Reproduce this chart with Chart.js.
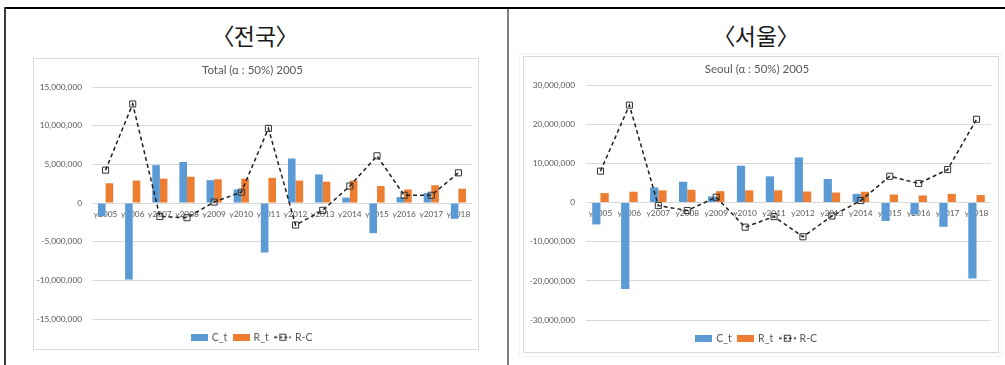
<!DOCTYPE html>
<html>
<head>
<meta charset="utf-8">
<script src="https://cdn.jsdelivr.net/npm/chart.js@4"></script>
<style>
  html, body { margin: 0; padding: 0; background: #fff; }
  #page { position: relative; width: 1005px; height: 365px; overflow: hidden; background: #fff; }
  .rule { position: absolute; }
  .heading {
    position: absolute; top: 17px; width: 200px; text-align: center;
    font-family: "Noto Sans CJK KR", sans-serif; font-size: 23px; color: #1a1a1a;
    font-feature-settings: "palt"; line-height: 36px;
  }
  .frame { position: absolute; box-sizing: border-box; border: 1px solid #d9d9d9; }
  .outer { position: absolute; box-sizing: border-box; border: 1px solid #f2f2f2; }
  canvas.plot { position: absolute; }
</style>
</head>
<body>
<div id="page">
  <div class="rule" style="left:4px;top:7px;width:1001px;height:2px;background:#000;"></div>
  <div class="rule" style="left:4px;top:7px;width:2px;height:358px;background:#3c3c3c;"></div>
  <div class="rule" style="left:507px;top:9px;width:2px;height:356px;background:#7f7f7f;"></div>

  <div class="heading" style="left:155px;">〈전국〉</div>
  <div class="heading" style="left:656px;">〈서울〉</div>

  <div class="outer" style="left:519px;top:53px;width:483px;height:304px;"></div>
  <div class="frame" style="left:33px;top:58px;width:446px;height:292px;"></div>
  <div class="frame" style="left:523px;top:56px;width:476px;height:297px;"></div>

  <canvas id="totalChart" class="plot" style="left:33px;top:58px;"></canvas>
  <canvas id="seoulChart" class="plot" style="left:523px;top:56px;"></canvas>
</div>

<script>
// Categories
const years = ['y2005', 'y2006', 'y2007', 'y2008', 'y2009', 'y2010', 'y2011',
               'y2012', 'y2013', 'y2014', 'y2015', 'y2016', 'y2017', 'y2018'];

// 전국 (Total)
const totalC  = [-1700000, -9900000, 4900000, 5300000, 2950000, 1750000, -6400000,
                 5750000, 3700000, 700000, -3900000, 750000, 1300000, -2050000];
const totalR  = [2550000, 2900000, 3150000, 3400000, 3070000, 3150000, 3250000,
                 2900000, 2750000, 2900000, 2200000, 1750000, 2300000, 1850000];
const totalRC = [4250000, 12800000, -1750000, -1900000, 120000, 1400000, 9650000,
                 -2850000, -950000, 2200000, 6100000, 1000000, 1000000, 3900000];
const totalTicks = [-15000000, -10000000, -5000000, 0, 5000000, 10000000, 15000000];

// 서울 (Seoul)
const seoulC  = [-5600000, -22100000, 3850000, 5300000, 1550000, 9400000, 6670000,
                 11500000, 6000000, 2200000, -4700000, -3070000, -6200000, -19400000];
const seoulR  = [2400000, 2750000, 3100000, 3250000, 2900000, 3100000, 3100000,
                 2800000, 2550000, 2750000, 2050000, 1800000, 2200000, 1900000];
const seoulRC = [8000000, 24850000, -800000, -2050000, 1350000, -6300000, -3600000,
                 -8750000, -3450000, 500000, 6700000, 4870000, 8400000, 21250000];
const seoulTicks = [-30000000, -20000000, -10000000, 0, 10000000, 20000000, 30000000];

const seriesNames = ['C_t', 'R_t', 'R-C'];

const BLUE = '#5B9BD5';
const ORANGE = '#ED7D31';
const LINE = '#1f1f1f';
const TEXT = '#595959';
const GRID = '#d9d9d9';
const FONT = 'Lato, "Noto Sans", sans-serif';

// Legend swatches drawn as small images
function swatch(color) {
  const c = document.createElement('canvas');
  c.width = 17; c.height = 7;
  const g = c.getContext('2d');
  g.fillStyle = color;
  g.fillRect(0, 0, 17, 7);
  return c;
}
function lineSwatch() {
  const c = document.createElement('canvas');
  c.width = 17; c.height = 9;
  const g = c.getContext('2d');
  g.strokeStyle = LINE;
  g.lineWidth = 1.5;
  g.setLineDash([3, 2]);
  g.beginPath(); g.moveTo(0, 4.5); g.lineTo(17, 4.5); g.stroke();
  g.setLineDash([]);
  g.lineWidth = 1;
  g.strokeStyle = '#404040';
  g.strokeRect(5.5, 1.5, 6, 6);
  return c;
}
const legendImages = [swatch(BLUE), swatch(ORANGE), lineSwatch()];

function buildChart(canvasId, size, title, cVals, rVals, rcVals, ticks, geom) {
  const cv = document.getElementById(canvasId);
  cv.width = size.w; cv.height = size.h;
  cv.style.width = size.w + 'px'; cv.style.height = size.h + 'px';

  return new Chart(cv, {
    data: {
      labels: years,
      datasets: [
        { type: 'bar', label: seriesNames[0], data: cVals, backgroundColor: BLUE,
          categoryPercentage: geom.cat, barPercentage: 1, order: 1 },
        { type: 'bar', label: seriesNames[1], data: rVals, backgroundColor: ORANGE,
          categoryPercentage: geom.cat, barPercentage: 1, order: 1 },
        { type: 'line', label: seriesNames[2], data: rcVals, borderColor: LINE,
          borderWidth: 1.5, borderDash: [4, 3], tension: 0, fill: false,
          pointStyle: 'rect', pointRadius: 4.3, pointBorderWidth: 1,
          pointBorderColor: '#333333', pointBackgroundColor: 'rgba(255,255,255,0)',
          order: 0 }
      ]
    },
    options: {
      responsive: false,
      animation: false,
      events: [],
      devicePixelRatio: 1,
      layout: { padding: { left: 0, right: geom.padRight, top: 0, bottom: geom.padBottom } },
      plugins: {
        tooltip: { enabled: false },
        title: {
          display: true, text: title, color: TEXT,
          font: { family: FONT, size: 11.5, weight: 'normal', lineHeight: 1.2 },
          padding: { top: geom.titleTop, bottom: geom.titleBottom }
        },
        legend: {
          display: true, position: 'bottom',
          title: { display: true, text: '', padding: 0, font: { size: 6, lineHeight: 1 } },
          labels: {
            usePointStyle: true, pointStyleWidth: 14, padding: 7, color: TEXT,
            font: { family: FONT, size: 10.5 },
            generateLabels: (chart) => chart.data.datasets.map((ds, i) => ({
              text: ds.label, pointStyle: legendImages[i], fillStyle: 'transparent',
              strokeStyle: 'transparent', lineWidth: 0, hidden: false,
              datasetIndex: i, fontColor: TEXT
            }))
          }
        }
      },
      scales: {
        x: {
          type: 'category',
          position: { y: 0 },
          z: 1,
          grid: { display: false, drawTicks: false },
          border: { display: false },
          ticks: { color: TEXT, font: { family: FONT, size: 8.3 }, padding: 6,
                   maxRotation: 0, autoSkip: false }
        },
        y: {
          min: ticks[0], max: ticks[ticks.length - 1],
          afterBuildTicks: (scale) => { scale.ticks = ticks.map(v => ({ value: v })); },
          afterFit: (scale) => { scale.width = geom.yWidth; },
          grid: { color: GRID, lineWidth: 1, drawTicks: false },
          border: { display: false },
          ticks: { color: TEXT, font: { family: FONT, size: 8.3 }, padding: geom.yPad,
                   callback: (v) => Number(v).toLocaleString('en-US') }
        }
      }
    }
  });
}

buildChart('totalChart', { w: 446, h: 296 }, 'Total (α : 50%) 2005',
  totalC, totalR, totalRC, totalTicks,
  { cat: 0.56, padRight: 7, padBottom: 1.5, titleTop: 5.1, titleBottom: 10.1, yWidth: 59, yPad: 10 });

buildChart('seoulChart', { w: 476, h: 300 }, 'Seoul (α : 50%) 2005',
  seoulC, seoulR, seoulRC, seoulTicks,
  { cat: 0.57, padRight: 8, padBottom: 2.5, titleTop: 6.8, titleBottom: 8.4, yWidth: 63, yPad: 11 });
</script>
</body>
</html>
